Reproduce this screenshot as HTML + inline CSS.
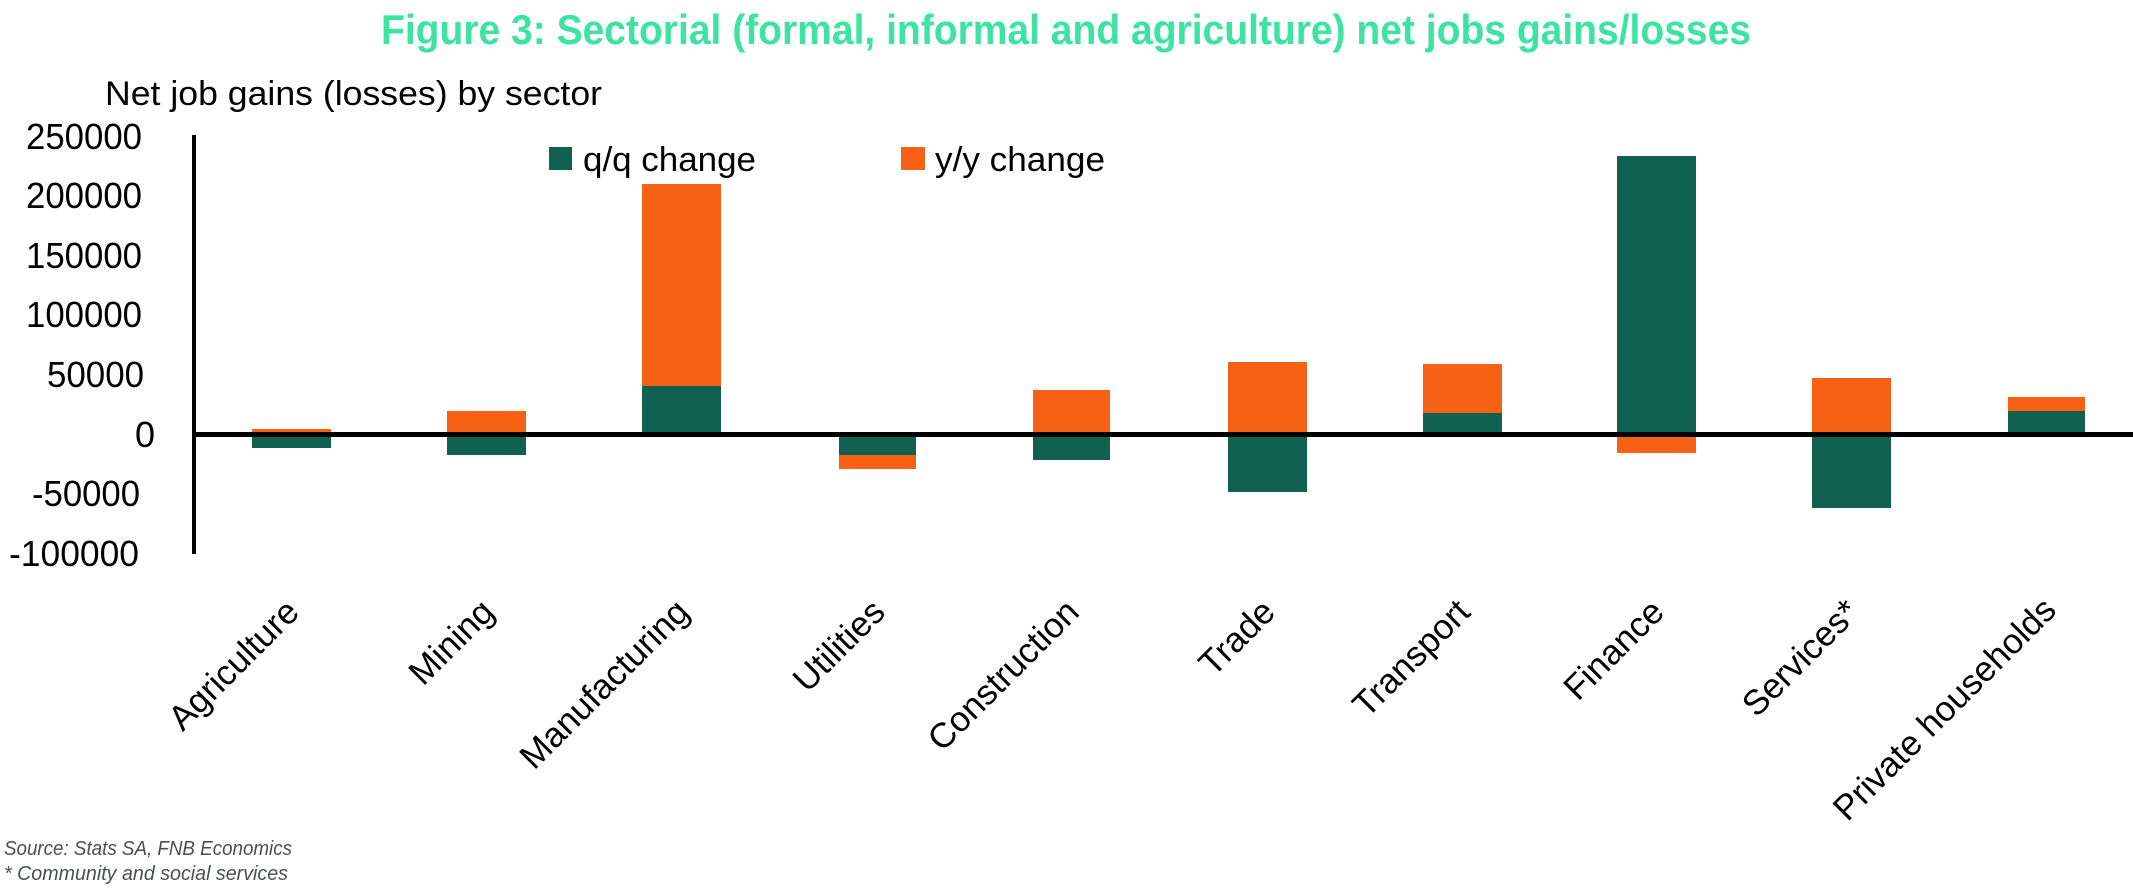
<!DOCTYPE html>
<html><head><meta charset="utf-8"><style>
html,body{margin:0;padding:0;background:#fff;}
svg{display:block;}
</style></head><body>
<svg width="2133" height="893" viewBox="0 0 2133 893" xmlns="http://www.w3.org/2000/svg" font-family="Liberation Sans, Arial, sans-serif">
<text x="381" y="44" font-size="42" font-weight="bold" fill="#3de3a0" textLength="1370" lengthAdjust="spacingAndGlyphs">Figure 3: Sectorial (formal, informal and agriculture) net jobs gains/losses</text>
<text x="105" y="105" font-size="34" fill="#000" textLength="497" lengthAdjust="spacingAndGlyphs">Net job gains (losses) by sector</text>
<g font-size="36" fill="#000" text-anchor="end">
<text x="142" y="149" textLength="116" lengthAdjust="spacingAndGlyphs">250000</text>
<text x="142" y="208" textLength="116" lengthAdjust="spacingAndGlyphs">200000</text>
<text x="142" y="268" textLength="116" lengthAdjust="spacingAndGlyphs">150000</text>
<text x="142" y="327" textLength="116" lengthAdjust="spacingAndGlyphs">100000</text>
<text x="144" y="387" textLength="97" lengthAdjust="spacingAndGlyphs">50000</text>
<text x="155" y="447">0</text>
<text x="140" y="506" textLength="108" lengthAdjust="spacingAndGlyphs">-50000</text>
<text x="139" y="566" textLength="130" lengthAdjust="spacingAndGlyphs">-100000</text>
</g>
<g>
<rect x="252" y="429" width="79" height="5" fill="#f76115"/><rect x="252" y="434" width="79" height="14" fill="#116151"/>
<rect x="447" y="411" width="79" height="23" fill="#f76115"/><rect x="447" y="434" width="79" height="21" fill="#116151"/>
<rect x="642" y="184" width="79" height="202" fill="#f76115"/><rect x="642" y="386" width="79" height="48" fill="#116151"/>
<rect x="839" y="434" width="77" height="21" fill="#116151"/><rect x="839" y="455" width="77" height="14" fill="#f76115"/>
<rect x="1033" y="390" width="77" height="44" fill="#f76115"/><rect x="1033" y="434" width="77" height="26" fill="#116151"/>
<rect x="1228" y="362" width="79" height="72" fill="#f76115"/><rect x="1228" y="434" width="79" height="58" fill="#116151"/>
<rect x="1423" y="364" width="79" height="49" fill="#f76115"/><rect x="1423" y="413" width="79" height="21" fill="#116151"/>
<rect x="1617" y="156" width="79" height="278" fill="#116151"/><rect x="1617" y="434" width="79" height="19" fill="#f76115"/>
<rect x="1812" y="378" width="79" height="56" fill="#f76115"/><rect x="1812" y="434" width="79" height="74" fill="#116151"/>
<rect x="2008" y="397" width="77" height="14" fill="#f76115"/><rect x="2008" y="411" width="77" height="23" fill="#116151"/>
</g>
<rect x="192" y="135" width="4" height="419" fill="#000"/>
<rect x="192" y="432" width="1941" height="5" fill="#000"/>
<rect x="549" y="147" width="23" height="23" fill="#116151"/>
<text x="583" y="171" font-size="34" fill="#000" textLength="173" lengthAdjust="spacingAndGlyphs">q/q change</text>
<rect x="901" y="147" width="24" height="23" fill="#f76115"/>
<text x="935" y="171" font-size="34" fill="#000" textLength="170" lengthAdjust="spacingAndGlyphs">y/y change</text>
<g font-size="35" fill="#000" text-anchor="end">
<text transform="translate(301,614) rotate(-45)">Agriculture</text>
<text transform="translate(496,614) rotate(-45)">Mining</text>
<text transform="translate(691,614) rotate(-45)">Manufacturing</text>
<text transform="translate(887,614) rotate(-45)">Utilities</text>
<text transform="translate(1081,614) rotate(-45)">Construction</text>
<text transform="translate(1277,614) rotate(-45)">Trade</text>
<text transform="translate(1472,614) rotate(-45)">Transport</text>
<text transform="translate(1666,614) rotate(-45)">Finance</text>
<text transform="translate(1861,614) rotate(-45)">Services*</text>
<text transform="translate(2058,612) rotate(-45)">Private households</text>
</g>
<text x="4" y="855" font-size="20" font-style="italic" fill="#4a4f4d" textLength="288" lengthAdjust="spacingAndGlyphs">Source: Stats SA, FNB Economics</text>
<text x="4" y="880" font-size="20" font-style="italic" fill="#4a4f4d" textLength="284" lengthAdjust="spacingAndGlyphs">* Community and social services</text>
</svg>
</body></html>
